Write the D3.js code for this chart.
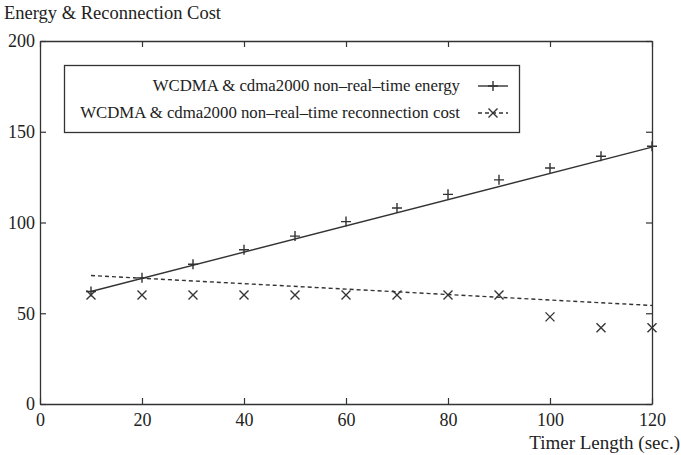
<!DOCTYPE html>
<html>
<head>
<meta charset="utf-8">
<script src="https://cdn.jsdelivr.net/npm/d3@7"></script>
<style>
  body { margin: 0; background: #fff; }
  text { font-family: "Liberation Serif", "DejaVu Serif", serif; fill: #222; }
</style>
</head>
<body>
<div id="plot1"></div>
<script>
// data
var timer = [10, 20, 30, 40, 50, 60, 70, 80, 90, 100, 110, 120];
var energy = [62, 69.5, 77, 85, 92.5, 100.5, 108, 115.5, 123.5, 130, 136.5, 142];
var reconnect = [60, 60, 60, 60, 60, 60, 60, 60, 60, 48, 42, 42];
// fitted lines drawn in the figure (end points)
var energyFit = [[10, 62], [120, 141.5]];
var reconnectFit = [[10, 70.8], [120, 54.3]];
var xTicks = [0, 20, 40, 60, 80, 100, 120];
var yTicks = [0, 50, 100, 150, 200];
var legendNames = ["WCDMA & cdma2000 non\u2013real\u2013time energy",
                   "WCDMA & cdma2000 non\u2013real\u2013time reconnection cost"];

var W = 681, H = 455;
var margin = {t: 41, r: 29, b: 51, l: 40};
var width = W - margin.l - margin.r,
    height = H - margin.t - margin.b;
var ink = "#333";

var svg = d3.select('#plot1').append('svg')
    .attr('width', W).attr('height', H);

var plot = svg.append('g')
    .attr('transform', 'translate(' + margin.l + ',' + margin.t + ')');

var x = d3.scaleLinear().domain([0, 120]).range([0, width]);
var y = d3.scaleLinear().domain([0, 200]).range([height, 0]);

// axes, ticks pointing inward on all four sides
var tk = 6;
plot.append('g').attr('transform', 'translate(0,' + height + ')')
    .call(d3.axisBottom(x).tickValues(xTicks).tickSizeInner(-tk).tickSizeOuter(0).tickPadding(9));
plot.append('g')
    .call(d3.axisTop(x).tickValues(xTicks).tickSizeInner(-tk).tickSizeOuter(0).tickFormat(''));
plot.append('g')
    .call(d3.axisLeft(y).tickValues(yTicks).tickSizeInner(-tk).tickSizeOuter(0).tickPadding(5));
plot.append('g').attr('transform', 'translate(' + width + ',0)')
    .call(d3.axisRight(y).tickValues(yTicks).tickSizeInner(-tk).tickSizeOuter(0).tickFormat(''));

plot.selectAll('.domain').attr('stroke', ink).attr('stroke-width', 1.3);
plot.selectAll('.tick line').attr('stroke', ink).attr('stroke-width', 1.2);
plot.selectAll('.tick text').style('font-family', '"Liberation Serif", serif')
    .style('font-size', '18px').attr('fill', '#222');

// axis titles
svg.append('text').attr('x', 4).attr('y', 19)
    .style('font-size', '18.5px').text('Energy & Reconnection Cost');
svg.append('text').attr('x', 680).attr('y', 449).attr('text-anchor', 'end')
    .style('font-size', '19px').text('Timer Length (sec.)');

// fitted lines
var line = d3.line().x(function(d){return x(d[0])}).y(function(d){return y(d[1])});
plot.append('path').datum(energyFit).attr('d', line)
    .attr('fill', 'none').attr('stroke', ink).attr('stroke-width', 1.4);
plot.append('path').datum(reconnectFit).attr('d', line)
    .attr('fill', 'none').attr('stroke', ink).attr('stroke-width', 1.4)
    .attr('stroke-dasharray', '4,3');

// markers
function plus(g, cx, cy) {
    g.append('path').attr('d', 'M' + (cx - 5) + ',' + cy + 'H' + (cx + 5) + 'M' + cx + ',' + (cy - 5) + 'V' + (cy + 5))
        .attr('stroke', ink).attr('stroke-width', 1.4);
}
function cross(g, cx, cy) {
    var s = 4.5;
    g.append('path').attr('d', 'M' + (cx - s) + ',' + (cy - s) + 'L' + (cx + s) + ',' + (cy + s) +
        'M' + (cx - s) + ',' + (cy + s) + 'L' + (cx + s) + ',' + (cy - s))
        .attr('stroke', ink).attr('stroke-width', 1.4);
}
timer.forEach(function(t, i){
    plus(plot, x(t), y(energy[i]));
    cross(plot, x(t), y(reconnect[i]));
});

// legend
var lg = svg.append('g');
lg.append('rect').attr('x', 64.5).attr('y', 65.5).attr('width', 455).attr('height', 67)
    .attr('fill', '#fff').attr('stroke', ink).attr('stroke-width', 1.3);
legendNames.forEach(function(name, i){
    var yy = 86 + i * 27;
    lg.append('text').attr('x', 460).attr('y', yy + 5).attr('text-anchor', 'end')
        .style('font-size', '16.8px').text(name);
    var seg = lg.append('path').attr('d', 'M478,' + yy + 'H508')
        .attr('stroke', ink).attr('stroke-width', 1.4);
    if (i === 0) plus(lg, 493, yy);
    else { seg.attr('stroke-dasharray', '4,3'); cross(lg, 493, yy); }
});
</script>
</body>
</html>
